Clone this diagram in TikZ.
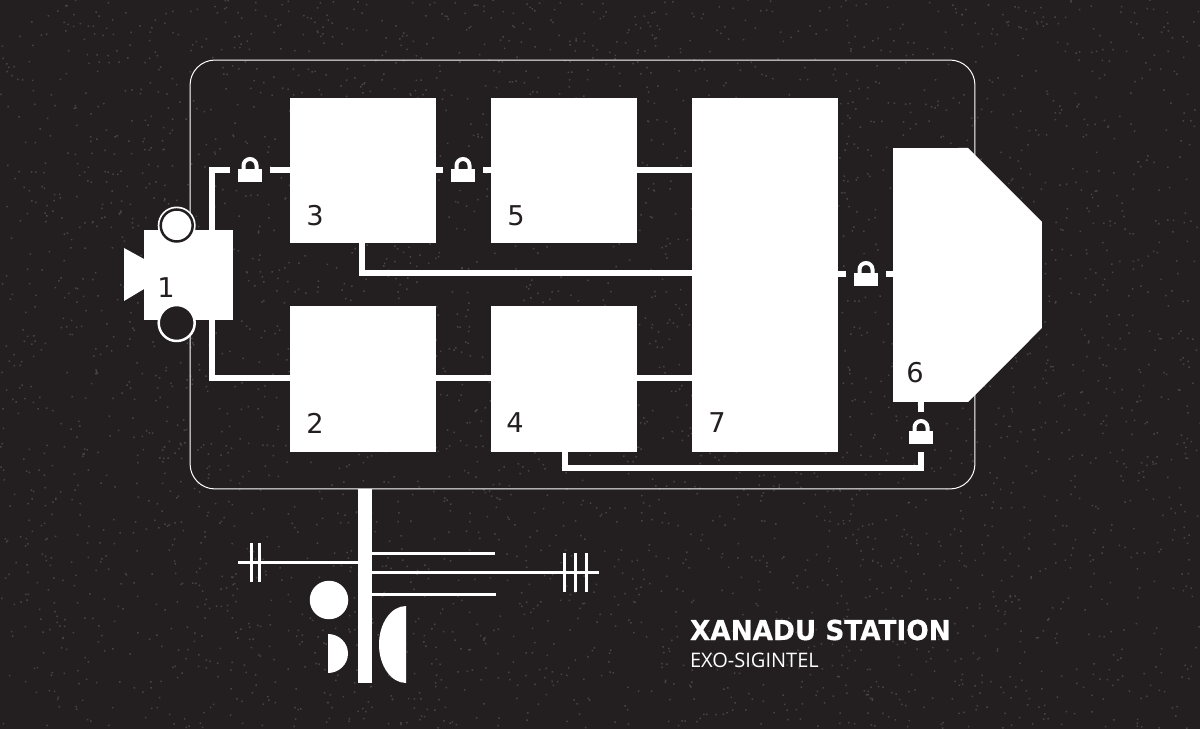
\documentclass[tikz,border=0pt]{standalone}
\usepackage{fontspec}
\setmainfont{DejaVu Sans}
\newfontfamily\titlefont[FakeStretch=0.96,BoldFeatures={FakeBold=0.5}]{DejaVu Sans}
\newfontfamily\subfont{Open Sans}
\definecolor{nightbg}{HTML}{231F20}
\definecolor{speck}{HTML}{484546}
\tikzset{
  padlock/.pic={
    \fill [white] (-12,1) rectangle (12,-12);
    \draw [white,line width=0.08cm] (-6.5,1) -- (-6.5,4.5) arc (180:0:6.5) -- (6.5,1);
  }
}
\begin{document}
\begin{tikzpicture}[x=0.02cm,y=0.02cm,
  every node/.style={inner sep=0pt,outer sep=0pt},
  room/.style={fill=white,minimum width=2.92cm,minimum height=2.92cm},
  wire/.style={white,line width=0.12cm},
  thinwire/.style={white,line width=0.06cm},
  lockdisc/.style={circle,fill=nightbg,minimum size=0.8cm},
  roomnum/.style={text=nightbg,font=\fontsize{15.5}{15.5}\selectfont}]
\fill [nightbg] (0,0) rectangle (1200,-729);
\useasboundingbox (0,0) rectangle (1200,-729);
\pgfmathsetseed{7}
\fill [speck] \foreach \i in {1,...,4000} { ({rnd*1200},{-rnd*729}) rectangle +(1.5,1.5) };
\node [draw=white,line width=0.02cm,rounded corners=0.5cm,minimum width=15.7cm,minimum height=8.58cm] (frame) at (582.5,-274.5) {};
% rooms
\node [room] (box3) at (363,-170.5) {};
\node [room] (box5) at (564,-170.5) {};
\node [room] (box2) at (363,-379) {};
\node [room] (box4) at (564,-379) {};
\node [room,minimum height=7.08cm] (box7) at (765,-275) {};
\node [minimum width=2.98cm,minimum height=5.08cm] (box6) at (967.5,-275) {};
\fill [white] (box6.north west) -- (968,-148) -- (box6.east |- 0,-222) -- (box6.east |- 0,-328) -- (968,-402) -- (box6.south west) -- cycle;
% camera
\node [fill=white,minimum width=1.78cm,minimum height=1.8cm] (camera) at (188.5,-275) {};
\fill [white] (camera.west |- 0,-259) -- (124,-248) -- (124,-301) -- (camera.west |- 0,-289) -- cycle;
\node [circle,fill=white,minimum size=0.76cm] (eyeOuter) at (176.7,-225.5) {};
\node [circle,fill=white,draw=nightbg,line width=0.05cm,minimum size=0.64cm] (eyeTop) at (eyeOuter) {};
\node [circle,fill=nightbg,draw=white,line width=0.05cm,minimum size=0.72cm] (eyeBottom) at (176.7,-323) {};
% locks
\node [lockdisc] (lockA) at (250,-170) {};
\node [lockdisc] (lockB) at (463,-170) {};
\node [lockdisc] (lockC) at (866,-274) {};
\node [lockdisc] (lockD) at (921,-432) {};
\pic at (lockA) {padlock};
\pic at (lockB) {padlock};
\pic at (lockC) {padlock};
\pic at (lockD) {padlock};
% wires
\coordinate (camTop) at (212,-230);
\coordinate (camLow) at (212,-320);
\coordinate (tap3) at (362,-243);
\coordinate (tap4) at (565,-452);
\draw [wire] (camTop) |- (lockA);
\draw [wire] (lockA) -- (box3.west |- lockA);
\draw [wire] (box3.east |- lockB) -- (lockB);
\draw [wire] (lockB) -- (box5.west |- lockB);
\draw [wire] (box5.east |- lockB) -- (box7.west |- lockB);
\draw [wire] (tap3) |- (box7.west |- 0,-273);
\draw [wire] (camLow) |- (box2.west |- 0,-378);
\draw [wire] (box2.east |- 0,-378) -- (box4.west |- 0,-378);
\draw [wire] (box4.east |- 0,-378) -- (box7.west |- 0,-378);
\draw [wire] (box7.east |- lockC) -- (lockC);
\draw [wire] (lockC) -- (box6.west |- lockC);
\draw [wire] (tap4) |- (921,-468) -- (lockD);
\draw [wire] (lockD) -- (lockD |- box6.south);
% numbers
\node [roomnum] (num1) at (166,-288) {1};
\node [roomnum] (num2) at (315,-423) {2};
\node [roomnum] (num3) at (315,-216) {3};
\node [roomnum] (num4) at (515,-423) {4};
\node [roomnum] (num5) at (516,-216) {5};
\node [roomnum] (num6) at (915,-373) {6};
\node [roomnum] (num7) at (717,-423) {7};
% glyph under the frame
\node [fill=white,minimum width=0.27cm,minimum height=3.88cm] (mast) at (365,-586) {};
\coordinate (feedL) at (238,-562);
\coordinate (spurA) at (495,-553);
\coordinate (spurB) at (599,-572);
\coordinate (spurC) at (496,-594);
\draw [thinwire] (feedL) -- (mast.west |- feedL);
\draw [thinwire] (mast.east |- spurA) -- (spurA);
\draw [thinwire] (mast.east |- spurB) -- (spurB);
\draw [thinwire] (mast.east |- spurC) -- (spurC);
\foreach \x in {251,259}
  \draw [thinwire] (\x,-543) -- (\x,-582);
\foreach \x in {564,575,586}
  \draw [thinwire] (\x,-553) -- (\x,-592);
\node [circle,fill=white,minimum size=0.77cm] (discA) at (329,-600) {};
\fill [white] (328,-634) arc (90:-90:20 and 19.5) -- cycle;
\fill [white] (406,-606) arc (90:270:27 and 38.5) -- cycle;
% title
\node [anchor=base west,text=white,font=\titlefont\bfseries\fontsize{15.6}{15.6}\selectfont] (title) at (690,-640) {XANADU STATION};
\node [anchor=base west,text=white,font=\subfont\fontsize{11.4}{11.4}\selectfont] (subtitle) at (690,-667) {EXO-SIGINTEL};
\end{tikzpicture}
\end{document}
